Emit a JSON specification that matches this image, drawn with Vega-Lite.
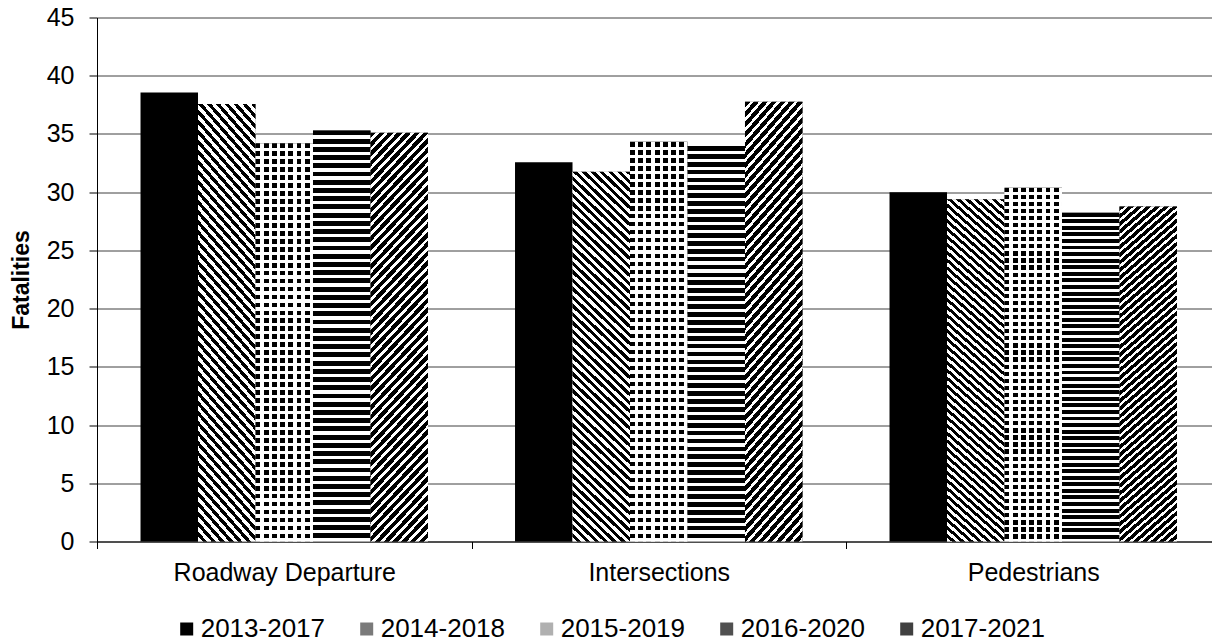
{
  "$schema": "https://vega.github.io/schema/vega-lite/v6.json",
  "width": 1115,
  "height": 524,
  "autosize": {"type": "none"},
  "padding": {"left": 97, "top": 17.5, "right": 0, "bottom": 101.5},
  "config": {
    "view": {"stroke": null},
    "font": "Liberation Sans",
    "axis": {"labelFont": "Liberation Sans", "titleFont": "Liberation Sans", "labelColor": "#000", "titleColor": "#000"}
  },
  "data": {"values": [
    {"category": "Roadway Departure", "series": "2013-2017", "value": 38.55},
    {"category": "Roadway Departure", "series": "2014-2018", "value": 37.57},
    {"category": "Roadway Departure", "series": "2015-2019", "value": 34.2},
    {"category": "Roadway Departure", "series": "2016-2020", "value": 35.3},
    {"category": "Roadway Departure", "series": "2017-2021", "value": 35.1},
    {"category": "Intersections", "series": "2013-2017", "value": 32.57},
    {"category": "Intersections", "series": "2014-2018", "value": 31.76},
    {"category": "Intersections", "series": "2015-2019", "value": 34.33},
    {"category": "Intersections", "series": "2016-2020", "value": 33.97},
    {"category": "Intersections", "series": "2017-2021", "value": 37.77},
    {"category": "Pedestrians", "series": "2013-2017", "value": 29.99},
    {"category": "Pedestrians", "series": "2014-2018", "value": 29.39},
    {"category": "Pedestrians", "series": "2015-2019", "value": 30.39},
    {"category": "Pedestrians", "series": "2016-2020", "value": 28.24},
    {"category": "Pedestrians", "series": "2017-2021", "value": 28.76}
  ]},
  "encoding": {
    "x": {
      "field": "category", "type": "nominal",
      "sort": ["Roadway Departure", "Intersections", "Pedestrians"],
      "scale": {"paddingInner": 0, "paddingOuter": 0, "range": [0, 1123.5]},
      "axis": {"title": null, "labelAngle": 0, "labelFontSize": 25, "labelLimit": 600, "labelPadding": 12, "tickBand": "extent", "tickSize": 7, "tickColor": "#000", "domainColor": "#000", "grid": false}
    },
    "xOffset": {
      "field": "series", "type": "nominal",
      "scale": {"domain": ["2013-2017", "2014-2018", "2015-2019", "2016-2020", "2017-2021"], "paddingInner": 0, "paddingOuter": 0.757}
    },
    "y": {
      "field": "value", "type": "quantitative",
      "scale": {"domain": [0, 45]},
      "axis": {"title": "Fatalities", "titleFontSize": 23, "titleFontWeight": "bold", "titlePadding": 13, "values": [0, 5, 10, 15, 20, 25, 30, 35, 40, 45], "labelFontSize": 25, "labelPadding": 15, "tickSize": 8, "tickColor": "#000", "domainColor": "#000", "grid": true, "gridColor": "#404040", "gridOpacity": 1}
    }
  },
  "layer": [
    {
      "mark": {"type": "bar"},
      "encoding": {
        "color": {
          "field": "series", "type": "nominal",
          "scale": {"domain": ["2013-2017", "2014-2018", "2015-2019", "2016-2020", "2017-2021"], "range": ["#000000", "#7a7a7a", "#b0b0b0", "#505050", "#404040"]},
          "legend": {"title": null, "orient": "none", "legendX": 76.7, "legendY": 598.5, "direction": "horizontal", "columns": 5, "symbolType": "square", "symbolSize": 169, "symbolStrokeWidth": 0, "labelFontSize": 26, "labelFont": "Liberation Sans", "labelColor": "#000", "labelOffset": 1, "columnPadding": 28, "padding": 0, "labelLimit": 400}
        }
      }
    },
    {
      "transform": [{"filter": "datum.series === '2014-2018'"}],
      "mark": {"type": "bar", "fill": {"gradient": "linear", "x1": 1, "y1": 0, "x2": 0.832, "y2": 1.124, "stops": [
{"offset":0,"color":"#000"},{"offset":0.01,"color":"#000"},{"offset":0.01,"color":"#fff"},{"offset":0.02,"color":"#fff"},
{"offset":0.02,"color":"#000"},{"offset":0.03,"color":"#000"},{"offset":0.03,"color":"#fff"},{"offset":0.04,"color":"#fff"},
{"offset":0.04,"color":"#000"},{"offset":0.05,"color":"#000"},{"offset":0.05,"color":"#fff"},{"offset":0.06,"color":"#fff"},
{"offset":0.06,"color":"#000"},{"offset":0.07,"color":"#000"},{"offset":0.07,"color":"#fff"},{"offset":0.08,"color":"#fff"},
{"offset":0.08,"color":"#000"},{"offset":0.09,"color":"#000"},{"offset":0.09,"color":"#fff"},{"offset":0.1,"color":"#fff"},
{"offset":0.1,"color":"#000"},{"offset":0.11,"color":"#000"},{"offset":0.11,"color":"#fff"},{"offset":0.12,"color":"#fff"},
{"offset":0.12,"color":"#000"},{"offset":0.13,"color":"#000"},{"offset":0.13,"color":"#fff"},{"offset":0.14,"color":"#fff"},
{"offset":0.14,"color":"#000"},{"offset":0.15,"color":"#000"},{"offset":0.15,"color":"#fff"},{"offset":0.16,"color":"#fff"},
{"offset":0.16,"color":"#000"},{"offset":0.17,"color":"#000"},{"offset":0.17,"color":"#fff"},{"offset":0.18,"color":"#fff"},
{"offset":0.18,"color":"#000"},{"offset":0.19,"color":"#000"},{"offset":0.19,"color":"#fff"},{"offset":0.2,"color":"#fff"},
{"offset":0.2,"color":"#000"},{"offset":0.21,"color":"#000"},{"offset":0.21,"color":"#fff"},{"offset":0.22,"color":"#fff"},
{"offset":0.22,"color":"#000"},{"offset":0.23,"color":"#000"},{"offset":0.23,"color":"#fff"},{"offset":0.24,"color":"#fff"},
{"offset":0.24,"color":"#000"},{"offset":0.25,"color":"#000"},{"offset":0.25,"color":"#fff"},{"offset":0.26,"color":"#fff"},
{"offset":0.26,"color":"#000"},{"offset":0.27,"color":"#000"},{"offset":0.27,"color":"#fff"},{"offset":0.28,"color":"#fff"},
{"offset":0.28,"color":"#000"},{"offset":0.29,"color":"#000"},{"offset":0.29,"color":"#fff"},{"offset":0.3,"color":"#fff"},
{"offset":0.3,"color":"#000"},{"offset":0.31,"color":"#000"},{"offset":0.31,"color":"#fff"},{"offset":0.32,"color":"#fff"},
{"offset":0.32,"color":"#000"},{"offset":0.33,"color":"#000"},{"offset":0.33,"color":"#fff"},{"offset":0.34,"color":"#fff"},
{"offset":0.34,"color":"#000"},{"offset":0.35,"color":"#000"},{"offset":0.35,"color":"#fff"},{"offset":0.36,"color":"#fff"},
{"offset":0.36,"color":"#000"},{"offset":0.37,"color":"#000"},{"offset":0.37,"color":"#fff"},{"offset":0.38,"color":"#fff"},
{"offset":0.38,"color":"#000"},{"offset":0.39,"color":"#000"},{"offset":0.39,"color":"#fff"},{"offset":0.4,"color":"#fff"},
{"offset":0.4,"color":"#000"},{"offset":0.41,"color":"#000"},{"offset":0.41,"color":"#fff"},{"offset":0.42,"color":"#fff"},
{"offset":0.42,"color":"#000"},{"offset":0.43,"color":"#000"},{"offset":0.43,"color":"#fff"},{"offset":0.44,"color":"#fff"},
{"offset":0.44,"color":"#000"},{"offset":0.45,"color":"#000"},{"offset":0.45,"color":"#fff"},{"offset":0.46,"color":"#fff"},
{"offset":0.46,"color":"#000"},{"offset":0.47,"color":"#000"},{"offset":0.47,"color":"#fff"},{"offset":0.48,"color":"#fff"},
{"offset":0.48,"color":"#000"},{"offset":0.49,"color":"#000"},{"offset":0.49,"color":"#fff"},{"offset":0.5,"color":"#fff"},
{"offset":0.5,"color":"#000"},{"offset":0.51,"color":"#000"},{"offset":0.51,"color":"#fff"},{"offset":0.52,"color":"#fff"},
{"offset":0.52,"color":"#000"},{"offset":0.53,"color":"#000"},{"offset":0.53,"color":"#fff"},{"offset":0.54,"color":"#fff"},
{"offset":0.54,"color":"#000"},{"offset":0.55,"color":"#000"},{"offset":0.55,"color":"#fff"},{"offset":0.56,"color":"#fff"},
{"offset":0.56,"color":"#000"},{"offset":0.57,"color":"#000"},{"offset":0.57,"color":"#fff"},{"offset":0.58,"color":"#fff"},
{"offset":0.58,"color":"#000"},{"offset":0.59,"color":"#000"},{"offset":0.59,"color":"#fff"},{"offset":0.6,"color":"#fff"},
{"offset":0.6,"color":"#000"},{"offset":0.61,"color":"#000"},{"offset":0.61,"color":"#fff"},{"offset":0.62,"color":"#fff"},
{"offset":0.62,"color":"#000"},{"offset":0.63,"color":"#000"},{"offset":0.63,"color":"#fff"},{"offset":0.64,"color":"#fff"},
{"offset":0.64,"color":"#000"},{"offset":0.65,"color":"#000"},{"offset":0.65,"color":"#fff"},{"offset":0.66,"color":"#fff"},
{"offset":0.66,"color":"#000"},{"offset":0.67,"color":"#000"},{"offset":0.67,"color":"#fff"},{"offset":0.68,"color":"#fff"},
{"offset":0.68,"color":"#000"},{"offset":0.69,"color":"#000"},{"offset":0.69,"color":"#fff"},{"offset":0.7,"color":"#fff"},
{"offset":0.7,"color":"#000"},{"offset":0.71,"color":"#000"},{"offset":0.71,"color":"#fff"},{"offset":0.72,"color":"#fff"},
{"offset":0.72,"color":"#000"},{"offset":0.73,"color":"#000"},{"offset":0.73,"color":"#fff"},{"offset":0.74,"color":"#fff"},
{"offset":0.74,"color":"#000"},{"offset":0.75,"color":"#000"},{"offset":0.75,"color":"#fff"},{"offset":0.76,"color":"#fff"},
{"offset":0.76,"color":"#000"},{"offset":0.77,"color":"#000"},{"offset":0.77,"color":"#fff"},{"offset":0.78,"color":"#fff"},
{"offset":0.78,"color":"#000"},{"offset":0.79,"color":"#000"},{"offset":0.79,"color":"#fff"},{"offset":0.8,"color":"#fff"},
{"offset":0.8,"color":"#000"},{"offset":0.81,"color":"#000"},{"offset":0.81,"color":"#fff"},{"offset":0.82,"color":"#fff"},
{"offset":0.82,"color":"#000"},{"offset":0.83,"color":"#000"},{"offset":0.83,"color":"#fff"},{"offset":0.84,"color":"#fff"},
{"offset":0.84,"color":"#000"},{"offset":0.85,"color":"#000"},{"offset":0.85,"color":"#fff"},{"offset":0.86,"color":"#fff"},
{"offset":0.86,"color":"#000"},{"offset":0.87,"color":"#000"},{"offset":0.87,"color":"#fff"},{"offset":0.88,"color":"#fff"},
{"offset":0.88,"color":"#000"},{"offset":0.89,"color":"#000"},{"offset":0.89,"color":"#fff"},{"offset":0.9,"color":"#fff"},
{"offset":0.9,"color":"#000"},{"offset":0.91,"color":"#000"},{"offset":0.91,"color":"#fff"},{"offset":0.92,"color":"#fff"},
{"offset":0.92,"color":"#000"},{"offset":0.93,"color":"#000"},{"offset":0.93,"color":"#fff"},{"offset":0.94,"color":"#fff"},
{"offset":0.94,"color":"#000"},{"offset":0.95,"color":"#000"},{"offset":0.95,"color":"#fff"},{"offset":0.96,"color":"#fff"},
{"offset":0.96,"color":"#000"},{"offset":0.97,"color":"#000"},{"offset":0.97,"color":"#fff"},{"offset":0.98,"color":"#fff"},
{"offset":0.98,"color":"#000"},{"offset":0.99,"color":"#000"},{"offset":0.99,"color":"#fff"},{"offset":1,"color":"#fff"}
      ]}}
    },
    {
      "transform": [{"filter": "datum.series === '2015-2019'"}],
      "mark": {"type": "bar", "fill": {"gradient": "linear", "x1": 0, "y1": 0, "x2": 0, "y2": 1, "stops": [
{"offset":0,"color":"#000"},{"offset":0.012,"color":"#000"},{"offset":0.012,"color":"#fff"},{"offset":0.02,"color":"#fff"},
{"offset":0.02,"color":"#000"},{"offset":0.032,"color":"#000"},{"offset":0.032,"color":"#fff"},{"offset":0.04,"color":"#fff"},
{"offset":0.04,"color":"#000"},{"offset":0.052,"color":"#000"},{"offset":0.052,"color":"#fff"},{"offset":0.06,"color":"#fff"},
{"offset":0.06,"color":"#000"},{"offset":0.072,"color":"#000"},{"offset":0.072,"color":"#fff"},{"offset":0.08,"color":"#fff"},
{"offset":0.08,"color":"#000"},{"offset":0.092,"color":"#000"},{"offset":0.092,"color":"#fff"},{"offset":0.1,"color":"#fff"},
{"offset":0.1,"color":"#000"},{"offset":0.112,"color":"#000"},{"offset":0.112,"color":"#fff"},{"offset":0.12,"color":"#fff"},
{"offset":0.12,"color":"#000"},{"offset":0.132,"color":"#000"},{"offset":0.132,"color":"#fff"},{"offset":0.14,"color":"#fff"},
{"offset":0.14,"color":"#000"},{"offset":0.152,"color":"#000"},{"offset":0.152,"color":"#fff"},{"offset":0.16,"color":"#fff"},
{"offset":0.16,"color":"#000"},{"offset":0.172,"color":"#000"},{"offset":0.172,"color":"#fff"},{"offset":0.18,"color":"#fff"},
{"offset":0.18,"color":"#000"},{"offset":0.192,"color":"#000"},{"offset":0.192,"color":"#fff"},{"offset":0.2,"color":"#fff"},
{"offset":0.2,"color":"#000"},{"offset":0.212,"color":"#000"},{"offset":0.212,"color":"#fff"},{"offset":0.22,"color":"#fff"},
{"offset":0.22,"color":"#000"},{"offset":0.232,"color":"#000"},{"offset":0.232,"color":"#fff"},{"offset":0.24,"color":"#fff"},
{"offset":0.24,"color":"#000"},{"offset":0.252,"color":"#000"},{"offset":0.252,"color":"#fff"},{"offset":0.26,"color":"#fff"},
{"offset":0.26,"color":"#000"},{"offset":0.272,"color":"#000"},{"offset":0.272,"color":"#fff"},{"offset":0.28,"color":"#fff"},
{"offset":0.28,"color":"#000"},{"offset":0.292,"color":"#000"},{"offset":0.292,"color":"#fff"},{"offset":0.3,"color":"#fff"},
{"offset":0.3,"color":"#000"},{"offset":0.312,"color":"#000"},{"offset":0.312,"color":"#fff"},{"offset":0.32,"color":"#fff"},
{"offset":0.32,"color":"#000"},{"offset":0.332,"color":"#000"},{"offset":0.332,"color":"#fff"},{"offset":0.34,"color":"#fff"},
{"offset":0.34,"color":"#000"},{"offset":0.352,"color":"#000"},{"offset":0.352,"color":"#fff"},{"offset":0.36,"color":"#fff"},
{"offset":0.36,"color":"#000"},{"offset":0.372,"color":"#000"},{"offset":0.372,"color":"#fff"},{"offset":0.38,"color":"#fff"},
{"offset":0.38,"color":"#000"},{"offset":0.392,"color":"#000"},{"offset":0.392,"color":"#fff"},{"offset":0.4,"color":"#fff"},
{"offset":0.4,"color":"#000"},{"offset":0.412,"color":"#000"},{"offset":0.412,"color":"#fff"},{"offset":0.42,"color":"#fff"},
{"offset":0.42,"color":"#000"},{"offset":0.432,"color":"#000"},{"offset":0.432,"color":"#fff"},{"offset":0.44,"color":"#fff"},
{"offset":0.44,"color":"#000"},{"offset":0.452,"color":"#000"},{"offset":0.452,"color":"#fff"},{"offset":0.46,"color":"#fff"},
{"offset":0.46,"color":"#000"},{"offset":0.472,"color":"#000"},{"offset":0.472,"color":"#fff"},{"offset":0.48,"color":"#fff"},
{"offset":0.48,"color":"#000"},{"offset":0.492,"color":"#000"},{"offset":0.492,"color":"#fff"},{"offset":0.5,"color":"#fff"},
{"offset":0.5,"color":"#000"},{"offset":0.512,"color":"#000"},{"offset":0.512,"color":"#fff"},{"offset":0.52,"color":"#fff"},
{"offset":0.52,"color":"#000"},{"offset":0.532,"color":"#000"},{"offset":0.532,"color":"#fff"},{"offset":0.54,"color":"#fff"},
{"offset":0.54,"color":"#000"},{"offset":0.552,"color":"#000"},{"offset":0.552,"color":"#fff"},{"offset":0.56,"color":"#fff"},
{"offset":0.56,"color":"#000"},{"offset":0.572,"color":"#000"},{"offset":0.572,"color":"#fff"},{"offset":0.58,"color":"#fff"},
{"offset":0.58,"color":"#000"},{"offset":0.592,"color":"#000"},{"offset":0.592,"color":"#fff"},{"offset":0.6,"color":"#fff"},
{"offset":0.6,"color":"#000"},{"offset":0.612,"color":"#000"},{"offset":0.612,"color":"#fff"},{"offset":0.62,"color":"#fff"},
{"offset":0.62,"color":"#000"},{"offset":0.632,"color":"#000"},{"offset":0.632,"color":"#fff"},{"offset":0.64,"color":"#fff"},
{"offset":0.64,"color":"#000"},{"offset":0.652,"color":"#000"},{"offset":0.652,"color":"#fff"},{"offset":0.66,"color":"#fff"},
{"offset":0.66,"color":"#000"},{"offset":0.672,"color":"#000"},{"offset":0.672,"color":"#fff"},{"offset":0.68,"color":"#fff"},
{"offset":0.68,"color":"#000"},{"offset":0.692,"color":"#000"},{"offset":0.692,"color":"#fff"},{"offset":0.7,"color":"#fff"},
{"offset":0.7,"color":"#000"},{"offset":0.712,"color":"#000"},{"offset":0.712,"color":"#fff"},{"offset":0.72,"color":"#fff"},
{"offset":0.72,"color":"#000"},{"offset":0.732,"color":"#000"},{"offset":0.732,"color":"#fff"},{"offset":0.74,"color":"#fff"},
{"offset":0.74,"color":"#000"},{"offset":0.752,"color":"#000"},{"offset":0.752,"color":"#fff"},{"offset":0.76,"color":"#fff"},
{"offset":0.76,"color":"#000"},{"offset":0.772,"color":"#000"},{"offset":0.772,"color":"#fff"},{"offset":0.78,"color":"#fff"},
{"offset":0.78,"color":"#000"},{"offset":0.792,"color":"#000"},{"offset":0.792,"color":"#fff"},{"offset":0.8,"color":"#fff"},
{"offset":0.8,"color":"#000"},{"offset":0.812,"color":"#000"},{"offset":0.812,"color":"#fff"},{"offset":0.82,"color":"#fff"},
{"offset":0.82,"color":"#000"},{"offset":0.832,"color":"#000"},{"offset":0.832,"color":"#fff"},{"offset":0.84,"color":"#fff"},
{"offset":0.84,"color":"#000"},{"offset":0.852,"color":"#000"},{"offset":0.852,"color":"#fff"},{"offset":0.86,"color":"#fff"},
{"offset":0.86,"color":"#000"},{"offset":0.872,"color":"#000"},{"offset":0.872,"color":"#fff"},{"offset":0.88,"color":"#fff"},
{"offset":0.88,"color":"#000"},{"offset":0.892,"color":"#000"},{"offset":0.892,"color":"#fff"},{"offset":0.9,"color":"#fff"},
{"offset":0.9,"color":"#000"},{"offset":0.912,"color":"#000"},{"offset":0.912,"color":"#fff"},{"offset":0.92,"color":"#fff"},
{"offset":0.92,"color":"#000"},{"offset":0.932,"color":"#000"},{"offset":0.932,"color":"#fff"},{"offset":0.94,"color":"#fff"},
{"offset":0.94,"color":"#000"},{"offset":0.952,"color":"#000"},{"offset":0.952,"color":"#fff"},{"offset":0.96,"color":"#fff"},
{"offset":0.96,"color":"#000"},{"offset":0.972,"color":"#000"},{"offset":0.972,"color":"#fff"},{"offset":0.98,"color":"#fff"},
{"offset":0.98,"color":"#000"},{"offset":0.992,"color":"#000"},{"offset":0.992,"color":"#fff"},{"offset":1,"color":"#fff"}
      ]}}
    },
    {
      "transform": [{"filter": "datum.series === '2015-2019'"}],
      "mark": {"type": "bar", "fill": {"gradient": "linear", "x1": 0, "y1": 0, "x2": 1, "y2": 0, "stops": [
        {"offset": 0, "color": "rgba(255,255,255,0)"}, {"offset": 0.0857, "color": "rgba(255,255,255,0)"}, {"offset": 0.0857, "color": "#fff"}, {"offset": 0.1429, "color": "#fff"},
        {"offset": 0.1429, "color": "rgba(255,255,255,0)"}, {"offset": 0.2286, "color": "rgba(255,255,255,0)"}, {"offset": 0.2286, "color": "#fff"}, {"offset": 0.2857, "color": "#fff"},
        {"offset": 0.2857, "color": "rgba(255,255,255,0)"}, {"offset": 0.3714, "color": "rgba(255,255,255,0)"}, {"offset": 0.3714, "color": "#fff"}, {"offset": 0.4286, "color": "#fff"},
        {"offset": 0.4286, "color": "rgba(255,255,255,0)"}, {"offset": 0.5143, "color": "rgba(255,255,255,0)"}, {"offset": 0.5143, "color": "#fff"}, {"offset": 0.5714, "color": "#fff"},
        {"offset": 0.5714, "color": "rgba(255,255,255,0)"}, {"offset": 0.6571, "color": "rgba(255,255,255,0)"}, {"offset": 0.6571, "color": "#fff"}, {"offset": 0.7143, "color": "#fff"},
        {"offset": 0.7143, "color": "rgba(255,255,255,0)"}, {"offset": 0.8, "color": "rgba(255,255,255,0)"}, {"offset": 0.8, "color": "#fff"}, {"offset": 0.8571, "color": "#fff"},
        {"offset": 0.8571, "color": "rgba(255,255,255,0)"}, {"offset": 0.9429, "color": "rgba(255,255,255,0)"}, {"offset": 0.9429, "color": "#fff"}, {"offset": 1, "color": "#fff"}
      ]}}
    },
    {
      "transform": [{"filter": "datum.series === '2016-2020'"}],
      "mark": {"type": "bar", "fill": {"gradient": "linear", "x1": 0, "y1": 0, "x2": 0, "y2": 1, "stops": [
{"offset":0,"color":"#000"},{"offset":0.012,"color":"#000"},{"offset":0.012,"color":"#fff"},{"offset":0.02,"color":"#fff"},
{"offset":0.02,"color":"#000"},{"offset":0.032,"color":"#000"},{"offset":0.032,"color":"#fff"},{"offset":0.04,"color":"#fff"},
{"offset":0.04,"color":"#000"},{"offset":0.052,"color":"#000"},{"offset":0.052,"color":"#fff"},{"offset":0.06,"color":"#fff"},
{"offset":0.06,"color":"#000"},{"offset":0.072,"color":"#000"},{"offset":0.072,"color":"#fff"},{"offset":0.08,"color":"#fff"},
{"offset":0.08,"color":"#000"},{"offset":0.092,"color":"#000"},{"offset":0.092,"color":"#fff"},{"offset":0.1,"color":"#fff"},
{"offset":0.1,"color":"#000"},{"offset":0.112,"color":"#000"},{"offset":0.112,"color":"#fff"},{"offset":0.12,"color":"#fff"},
{"offset":0.12,"color":"#000"},{"offset":0.132,"color":"#000"},{"offset":0.132,"color":"#fff"},{"offset":0.14,"color":"#fff"},
{"offset":0.14,"color":"#000"},{"offset":0.152,"color":"#000"},{"offset":0.152,"color":"#fff"},{"offset":0.16,"color":"#fff"},
{"offset":0.16,"color":"#000"},{"offset":0.172,"color":"#000"},{"offset":0.172,"color":"#fff"},{"offset":0.18,"color":"#fff"},
{"offset":0.18,"color":"#000"},{"offset":0.192,"color":"#000"},{"offset":0.192,"color":"#fff"},{"offset":0.2,"color":"#fff"},
{"offset":0.2,"color":"#000"},{"offset":0.212,"color":"#000"},{"offset":0.212,"color":"#fff"},{"offset":0.22,"color":"#fff"},
{"offset":0.22,"color":"#000"},{"offset":0.232,"color":"#000"},{"offset":0.232,"color":"#fff"},{"offset":0.24,"color":"#fff"},
{"offset":0.24,"color":"#000"},{"offset":0.252,"color":"#000"},{"offset":0.252,"color":"#fff"},{"offset":0.26,"color":"#fff"},
{"offset":0.26,"color":"#000"},{"offset":0.272,"color":"#000"},{"offset":0.272,"color":"#fff"},{"offset":0.28,"color":"#fff"},
{"offset":0.28,"color":"#000"},{"offset":0.292,"color":"#000"},{"offset":0.292,"color":"#fff"},{"offset":0.3,"color":"#fff"},
{"offset":0.3,"color":"#000"},{"offset":0.312,"color":"#000"},{"offset":0.312,"color":"#fff"},{"offset":0.32,"color":"#fff"},
{"offset":0.32,"color":"#000"},{"offset":0.332,"color":"#000"},{"offset":0.332,"color":"#fff"},{"offset":0.34,"color":"#fff"},
{"offset":0.34,"color":"#000"},{"offset":0.352,"color":"#000"},{"offset":0.352,"color":"#fff"},{"offset":0.36,"color":"#fff"},
{"offset":0.36,"color":"#000"},{"offset":0.372,"color":"#000"},{"offset":0.372,"color":"#fff"},{"offset":0.38,"color":"#fff"},
{"offset":0.38,"color":"#000"},{"offset":0.392,"color":"#000"},{"offset":0.392,"color":"#fff"},{"offset":0.4,"color":"#fff"},
{"offset":0.4,"color":"#000"},{"offset":0.412,"color":"#000"},{"offset":0.412,"color":"#fff"},{"offset":0.42,"color":"#fff"},
{"offset":0.42,"color":"#000"},{"offset":0.432,"color":"#000"},{"offset":0.432,"color":"#fff"},{"offset":0.44,"color":"#fff"},
{"offset":0.44,"color":"#000"},{"offset":0.452,"color":"#000"},{"offset":0.452,"color":"#fff"},{"offset":0.46,"color":"#fff"},
{"offset":0.46,"color":"#000"},{"offset":0.472,"color":"#000"},{"offset":0.472,"color":"#fff"},{"offset":0.48,"color":"#fff"},
{"offset":0.48,"color":"#000"},{"offset":0.492,"color":"#000"},{"offset":0.492,"color":"#fff"},{"offset":0.5,"color":"#fff"},
{"offset":0.5,"color":"#000"},{"offset":0.512,"color":"#000"},{"offset":0.512,"color":"#fff"},{"offset":0.52,"color":"#fff"},
{"offset":0.52,"color":"#000"},{"offset":0.532,"color":"#000"},{"offset":0.532,"color":"#fff"},{"offset":0.54,"color":"#fff"},
{"offset":0.54,"color":"#000"},{"offset":0.552,"color":"#000"},{"offset":0.552,"color":"#fff"},{"offset":0.56,"color":"#fff"},
{"offset":0.56,"color":"#000"},{"offset":0.572,"color":"#000"},{"offset":0.572,"color":"#fff"},{"offset":0.58,"color":"#fff"},
{"offset":0.58,"color":"#000"},{"offset":0.592,"color":"#000"},{"offset":0.592,"color":"#fff"},{"offset":0.6,"color":"#fff"},
{"offset":0.6,"color":"#000"},{"offset":0.612,"color":"#000"},{"offset":0.612,"color":"#fff"},{"offset":0.62,"color":"#fff"},
{"offset":0.62,"color":"#000"},{"offset":0.632,"color":"#000"},{"offset":0.632,"color":"#fff"},{"offset":0.64,"color":"#fff"},
{"offset":0.64,"color":"#000"},{"offset":0.652,"color":"#000"},{"offset":0.652,"color":"#fff"},{"offset":0.66,"color":"#fff"},
{"offset":0.66,"color":"#000"},{"offset":0.672,"color":"#000"},{"offset":0.672,"color":"#fff"},{"offset":0.68,"color":"#fff"},
{"offset":0.68,"color":"#000"},{"offset":0.692,"color":"#000"},{"offset":0.692,"color":"#fff"},{"offset":0.7,"color":"#fff"},
{"offset":0.7,"color":"#000"},{"offset":0.712,"color":"#000"},{"offset":0.712,"color":"#fff"},{"offset":0.72,"color":"#fff"},
{"offset":0.72,"color":"#000"},{"offset":0.732,"color":"#000"},{"offset":0.732,"color":"#fff"},{"offset":0.74,"color":"#fff"},
{"offset":0.74,"color":"#000"},{"offset":0.752,"color":"#000"},{"offset":0.752,"color":"#fff"},{"offset":0.76,"color":"#fff"},
{"offset":0.76,"color":"#000"},{"offset":0.772,"color":"#000"},{"offset":0.772,"color":"#fff"},{"offset":0.78,"color":"#fff"},
{"offset":0.78,"color":"#000"},{"offset":0.792,"color":"#000"},{"offset":0.792,"color":"#fff"},{"offset":0.8,"color":"#fff"},
{"offset":0.8,"color":"#000"},{"offset":0.812,"color":"#000"},{"offset":0.812,"color":"#fff"},{"offset":0.82,"color":"#fff"},
{"offset":0.82,"color":"#000"},{"offset":0.832,"color":"#000"},{"offset":0.832,"color":"#fff"},{"offset":0.84,"color":"#fff"},
{"offset":0.84,"color":"#000"},{"offset":0.852,"color":"#000"},{"offset":0.852,"color":"#fff"},{"offset":0.86,"color":"#fff"},
{"offset":0.86,"color":"#000"},{"offset":0.872,"color":"#000"},{"offset":0.872,"color":"#fff"},{"offset":0.88,"color":"#fff"},
{"offset":0.88,"color":"#000"},{"offset":0.892,"color":"#000"},{"offset":0.892,"color":"#fff"},{"offset":0.9,"color":"#fff"},
{"offset":0.9,"color":"#000"},{"offset":0.912,"color":"#000"},{"offset":0.912,"color":"#fff"},{"offset":0.92,"color":"#fff"},
{"offset":0.92,"color":"#000"},{"offset":0.932,"color":"#000"},{"offset":0.932,"color":"#fff"},{"offset":0.94,"color":"#fff"},
{"offset":0.94,"color":"#000"},{"offset":0.952,"color":"#000"},{"offset":0.952,"color":"#fff"},{"offset":0.96,"color":"#fff"},
{"offset":0.96,"color":"#000"},{"offset":0.972,"color":"#000"},{"offset":0.972,"color":"#fff"},{"offset":0.98,"color":"#fff"},
{"offset":0.98,"color":"#000"},{"offset":0.992,"color":"#000"},{"offset":0.992,"color":"#fff"},{"offset":1,"color":"#fff"}
      ]}}
    },
    {
      "transform": [{"filter": "datum.series === '2017-2021'"}],
      "mark": {"type": "bar", "fill": {"gradient": "linear", "x1": 0, "y1": 0, "x2": 0.168, "y2": 1.124, "stops": [
{"offset":0,"color":"#000"},{"offset":0.012,"color":"#000"},{"offset":0.012,"color":"#fff"},{"offset":0.02,"color":"#fff"},
{"offset":0.02,"color":"#000"},{"offset":0.032,"color":"#000"},{"offset":0.032,"color":"#fff"},{"offset":0.04,"color":"#fff"},
{"offset":0.04,"color":"#000"},{"offset":0.052,"color":"#000"},{"offset":0.052,"color":"#fff"},{"offset":0.06,"color":"#fff"},
{"offset":0.06,"color":"#000"},{"offset":0.072,"color":"#000"},{"offset":0.072,"color":"#fff"},{"offset":0.08,"color":"#fff"},
{"offset":0.08,"color":"#000"},{"offset":0.092,"color":"#000"},{"offset":0.092,"color":"#fff"},{"offset":0.1,"color":"#fff"},
{"offset":0.1,"color":"#000"},{"offset":0.112,"color":"#000"},{"offset":0.112,"color":"#fff"},{"offset":0.12,"color":"#fff"},
{"offset":0.12,"color":"#000"},{"offset":0.132,"color":"#000"},{"offset":0.132,"color":"#fff"},{"offset":0.14,"color":"#fff"},
{"offset":0.14,"color":"#000"},{"offset":0.152,"color":"#000"},{"offset":0.152,"color":"#fff"},{"offset":0.16,"color":"#fff"},
{"offset":0.16,"color":"#000"},{"offset":0.172,"color":"#000"},{"offset":0.172,"color":"#fff"},{"offset":0.18,"color":"#fff"},
{"offset":0.18,"color":"#000"},{"offset":0.192,"color":"#000"},{"offset":0.192,"color":"#fff"},{"offset":0.2,"color":"#fff"},
{"offset":0.2,"color":"#000"},{"offset":0.212,"color":"#000"},{"offset":0.212,"color":"#fff"},{"offset":0.22,"color":"#fff"},
{"offset":0.22,"color":"#000"},{"offset":0.232,"color":"#000"},{"offset":0.232,"color":"#fff"},{"offset":0.24,"color":"#fff"},
{"offset":0.24,"color":"#000"},{"offset":0.252,"color":"#000"},{"offset":0.252,"color":"#fff"},{"offset":0.26,"color":"#fff"},
{"offset":0.26,"color":"#000"},{"offset":0.272,"color":"#000"},{"offset":0.272,"color":"#fff"},{"offset":0.28,"color":"#fff"},
{"offset":0.28,"color":"#000"},{"offset":0.292,"color":"#000"},{"offset":0.292,"color":"#fff"},{"offset":0.3,"color":"#fff"},
{"offset":0.3,"color":"#000"},{"offset":0.312,"color":"#000"},{"offset":0.312,"color":"#fff"},{"offset":0.32,"color":"#fff"},
{"offset":0.32,"color":"#000"},{"offset":0.332,"color":"#000"},{"offset":0.332,"color":"#fff"},{"offset":0.34,"color":"#fff"},
{"offset":0.34,"color":"#000"},{"offset":0.352,"color":"#000"},{"offset":0.352,"color":"#fff"},{"offset":0.36,"color":"#fff"},
{"offset":0.36,"color":"#000"},{"offset":0.372,"color":"#000"},{"offset":0.372,"color":"#fff"},{"offset":0.38,"color":"#fff"},
{"offset":0.38,"color":"#000"},{"offset":0.392,"color":"#000"},{"offset":0.392,"color":"#fff"},{"offset":0.4,"color":"#fff"},
{"offset":0.4,"color":"#000"},{"offset":0.412,"color":"#000"},{"offset":0.412,"color":"#fff"},{"offset":0.42,"color":"#fff"},
{"offset":0.42,"color":"#000"},{"offset":0.432,"color":"#000"},{"offset":0.432,"color":"#fff"},{"offset":0.44,"color":"#fff"},
{"offset":0.44,"color":"#000"},{"offset":0.452,"color":"#000"},{"offset":0.452,"color":"#fff"},{"offset":0.46,"color":"#fff"},
{"offset":0.46,"color":"#000"},{"offset":0.472,"color":"#000"},{"offset":0.472,"color":"#fff"},{"offset":0.48,"color":"#fff"},
{"offset":0.48,"color":"#000"},{"offset":0.492,"color":"#000"},{"offset":0.492,"color":"#fff"},{"offset":0.5,"color":"#fff"},
{"offset":0.5,"color":"#000"},{"offset":0.512,"color":"#000"},{"offset":0.512,"color":"#fff"},{"offset":0.52,"color":"#fff"},
{"offset":0.52,"color":"#000"},{"offset":0.532,"color":"#000"},{"offset":0.532,"color":"#fff"},{"offset":0.54,"color":"#fff"},
{"offset":0.54,"color":"#000"},{"offset":0.552,"color":"#000"},{"offset":0.552,"color":"#fff"},{"offset":0.56,"color":"#fff"},
{"offset":0.56,"color":"#000"},{"offset":0.572,"color":"#000"},{"offset":0.572,"color":"#fff"},{"offset":0.58,"color":"#fff"},
{"offset":0.58,"color":"#000"},{"offset":0.592,"color":"#000"},{"offset":0.592,"color":"#fff"},{"offset":0.6,"color":"#fff"},
{"offset":0.6,"color":"#000"},{"offset":0.612,"color":"#000"},{"offset":0.612,"color":"#fff"},{"offset":0.62,"color":"#fff"},
{"offset":0.62,"color":"#000"},{"offset":0.632,"color":"#000"},{"offset":0.632,"color":"#fff"},{"offset":0.64,"color":"#fff"},
{"offset":0.64,"color":"#000"},{"offset":0.652,"color":"#000"},{"offset":0.652,"color":"#fff"},{"offset":0.66,"color":"#fff"},
{"offset":0.66,"color":"#000"},{"offset":0.672,"color":"#000"},{"offset":0.672,"color":"#fff"},{"offset":0.68,"color":"#fff"},
{"offset":0.68,"color":"#000"},{"offset":0.692,"color":"#000"},{"offset":0.692,"color":"#fff"},{"offset":0.7,"color":"#fff"},
{"offset":0.7,"color":"#000"},{"offset":0.712,"color":"#000"},{"offset":0.712,"color":"#fff"},{"offset":0.72,"color":"#fff"},
{"offset":0.72,"color":"#000"},{"offset":0.732,"color":"#000"},{"offset":0.732,"color":"#fff"},{"offset":0.74,"color":"#fff"},
{"offset":0.74,"color":"#000"},{"offset":0.752,"color":"#000"},{"offset":0.752,"color":"#fff"},{"offset":0.76,"color":"#fff"},
{"offset":0.76,"color":"#000"},{"offset":0.772,"color":"#000"},{"offset":0.772,"color":"#fff"},{"offset":0.78,"color":"#fff"},
{"offset":0.78,"color":"#000"},{"offset":0.792,"color":"#000"},{"offset":0.792,"color":"#fff"},{"offset":0.8,"color":"#fff"},
{"offset":0.8,"color":"#000"},{"offset":0.812,"color":"#000"},{"offset":0.812,"color":"#fff"},{"offset":0.82,"color":"#fff"},
{"offset":0.82,"color":"#000"},{"offset":0.832,"color":"#000"},{"offset":0.832,"color":"#fff"},{"offset":0.84,"color":"#fff"},
{"offset":0.84,"color":"#000"},{"offset":0.852,"color":"#000"},{"offset":0.852,"color":"#fff"},{"offset":0.86,"color":"#fff"},
{"offset":0.86,"color":"#000"},{"offset":0.872,"color":"#000"},{"offset":0.872,"color":"#fff"},{"offset":0.88,"color":"#fff"},
{"offset":0.88,"color":"#000"},{"offset":0.892,"color":"#000"},{"offset":0.892,"color":"#fff"},{"offset":0.9,"color":"#fff"},
{"offset":0.9,"color":"#000"},{"offset":0.912,"color":"#000"},{"offset":0.912,"color":"#fff"},{"offset":0.92,"color":"#fff"},
{"offset":0.92,"color":"#000"},{"offset":0.932,"color":"#000"},{"offset":0.932,"color":"#fff"},{"offset":0.94,"color":"#fff"},
{"offset":0.94,"color":"#000"},{"offset":0.952,"color":"#000"},{"offset":0.952,"color":"#fff"},{"offset":0.96,"color":"#fff"},
{"offset":0.96,"color":"#000"},{"offset":0.972,"color":"#000"},{"offset":0.972,"color":"#fff"},{"offset":0.98,"color":"#fff"},
{"offset":0.98,"color":"#000"},{"offset":0.992,"color":"#000"},{"offset":0.992,"color":"#fff"},{"offset":1,"color":"#fff"}
      ]}}
    }
  ]
}
